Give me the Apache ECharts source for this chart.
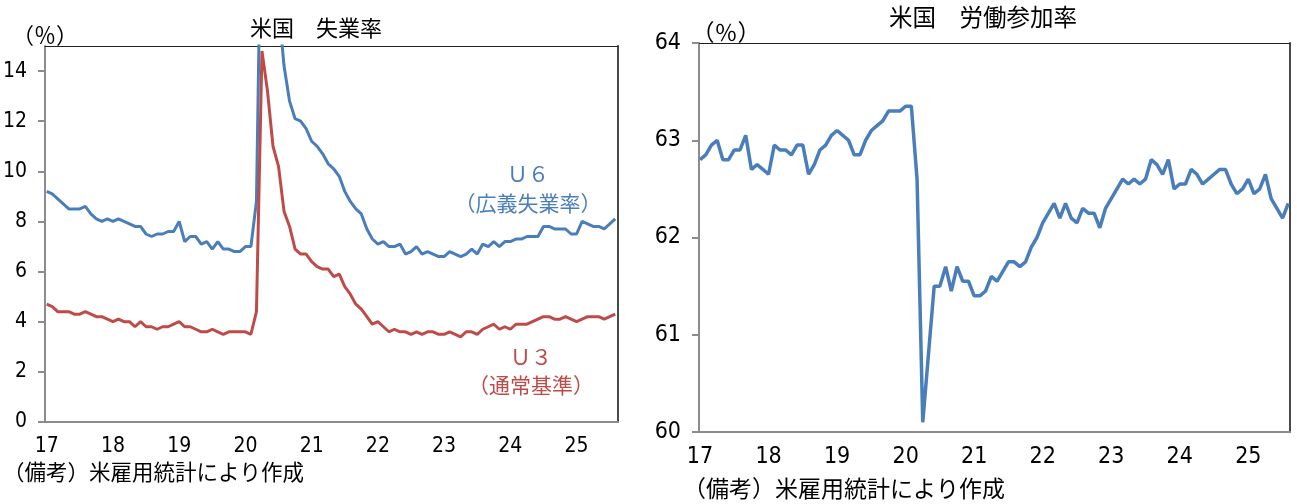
<!DOCTYPE html>
<html>
<head>
<meta charset="UTF-8">
<title>米国 失業率・労働参加率</title>
<script src="https://cdn.jsdelivr.net/npm/echarts@6/dist/echarts.min.js"></script>
<style>
    html, body { margin: 0; padding: 0; background: #fff; }
    #main { width: 1297px; height: 504px; }
</style>
</head>
<body>
<div id="main"></div>
<script type="text/javascript">
    // 月次データ 2017年1月～2025年8月
    var yearLabels = ['17', '18', '19', '20', '21', '22', '23', '24', '25'];

    // U3（通常基準）
    var u3 = [
        4.7, 4.6, 4.4, 4.4, 4.4, 4.3, 4.3, 4.4, 4.3, 4.2, 4.2, 4.1,
        4.0, 4.1, 4.0, 4.0, 3.8, 4.0, 3.8, 3.8, 3.7, 3.8, 3.8, 3.9,
        4.0, 3.8, 3.8, 3.7, 3.6, 3.6, 3.7, 3.6, 3.5, 3.6, 3.6, 3.6,
        3.6, 3.5, 4.4, 14.8, 13.2, 11.0, 10.2, 8.4, 7.8, 6.9, 6.7, 6.7,
        6.4, 6.2, 6.1, 6.1, 5.8, 5.9, 5.4, 5.1, 4.7, 4.5, 4.2, 3.9,
        4.0, 3.8, 3.6, 3.7, 3.6, 3.6, 3.5, 3.6, 3.5, 3.6, 3.6, 3.5,
        3.5, 3.6, 3.5, 3.4, 3.6, 3.6, 3.5, 3.7, 3.8, 3.9, 3.7, 3.8,
        3.7, 3.9, 3.9, 3.9, 4.0, 4.1, 4.2, 4.2, 4.1, 4.1, 4.2, 4.1,
        4.0, 4.1, 4.2, 4.2, 4.2, 4.1, 4.2, 4.3
    ];

    // U6（広義失業率）
    var u6 = [
        9.2, 9.1, 8.9, 8.7, 8.5, 8.5, 8.5, 8.6, 8.3, 8.1, 8.0, 8.1,
        8.0, 8.1, 8.0, 7.9, 7.8, 7.8, 7.5, 7.4, 7.5, 7.5, 7.6, 7.6,
        8.0, 7.2, 7.4, 7.4, 7.1, 7.2, 6.9, 7.2, 6.9, 6.9, 6.8, 6.8,
        7.0, 7.0, 8.8, 22.9, 21.1, 18.1, 16.6, 14.2, 12.8, 12.1, 12.0, 11.7,
        11.2, 11.0, 10.7, 10.3, 10.1, 9.8, 9.2, 8.8, 8.5, 8.3, 7.7, 7.3,
        7.1, 7.2, 7.0, 7.0, 7.1, 6.7, 6.8, 7.0, 6.7, 6.8, 6.7, 6.6,
        6.6, 6.8, 6.7, 6.6, 6.7, 6.9, 6.7, 7.1, 7.0, 7.2, 7.0, 7.2,
        7.2, 7.3, 7.3, 7.4, 7.4, 7.4, 7.8, 7.8, 7.7, 7.7, 7.7, 7.5,
        7.5, 8.0, 7.9, 7.8, 7.8, 7.7, 7.9, 8.1
    ];

    // 労働参加率
    var lfpr = [
        62.8, 62.85, 62.95, 63.0, 62.8, 62.8, 62.9, 62.9, 63.05, 62.7, 62.75, 62.7,
        62.65, 62.95, 62.9, 62.9, 62.85, 62.95, 62.95, 62.65, 62.75, 62.9, 62.95, 63.05,
        63.1, 63.05, 63.0, 62.85, 62.85, 63.0, 63.1, 63.15, 63.2, 63.3, 63.3, 63.3,
        63.35, 63.35, 62.6, 60.1, 60.8, 61.5, 61.5, 61.7, 61.45, 61.7, 61.55, 61.55,
        61.4, 61.4, 61.45, 61.6, 61.55, 61.65, 61.75, 61.75, 61.7, 61.75, 61.9, 62.0,
        62.15, 62.25, 62.35, 62.2, 62.35, 62.2, 62.15, 62.3, 62.25, 62.25, 62.1, 62.3,
        62.4, 62.5, 62.6, 62.55, 62.6, 62.55, 62.6, 62.8, 62.75, 62.65, 62.8, 62.5,
        62.55, 62.55, 62.7, 62.65, 62.55, 62.6, 62.65, 62.7, 62.7, 62.55, 62.45, 62.5,
        62.6, 62.45, 62.5, 62.65, 62.4, 62.3, 62.2, 62.35
    ];

    var yTicksL = [0, 2, 4, 6, 8, 10, 12, 14];
    var yTicksR = [60, 61, 62, 63, 64];

    var blue = '#4a7ebb';
    var red = '#be4b48';
    var jp = "'Noto Sans CJK JP', sans-serif";
    var num = "'Liberation Sans Narrow', 'DejaVu Sans Condensed', sans-serif";

    // 1月の位置（月インデックス）
    var janIdx = yearLabels.map(function (y, i) { return i * 12; });

    function pairs(arr) {
        return arr.map(function (v, i) { return [i, v]; });
    }

    function xAxisOpt(gridIndex, min, max, fs) {
        return {
            type: 'value', gridIndex: gridIndex, min: min, max: max,
            axisLine: {show: true, onZero: false, lineStyle: {color: '#8c8c8c', width: 2}},
            axisTick: {show: false},
            splitLine: {show: false},
            axisLabel: {
                customValues: janIdx, margin: 14,
                color: '#000', fontSize: fs, fontFamily: num,
                formatter: function (v) { return yearLabels[Math.round(v / 12)]; }
            }
        };
    }

    function yAxisOpt(gridIndex, min, max, ticks, fs) {
        return {
            type: 'value', gridIndex: gridIndex, min: min, max: max,
            axisLine: {show: true, onZero: false, lineStyle: {color: '#8c8c8c', width: 2}},
            axisTick: {show: true, inside: false, length: 7, customValues: ticks,
                lineStyle: {color: '#8c8c8c', width: 2}},
            splitLine: {show: false},
            axisLabel: {customValues: ticks, margin: 18, color: '#000', fontSize: fs, fontFamily: num}
        };
    }

    // 上辺・右辺の枠線
    function frameX(gridIndex, min, max) {
        return {
            type: 'value', gridIndex: gridIndex, position: 'top', min: min, max: max,
            axisLine: {show: true, onZero: false, lineStyle: {color: '#222', width: 1.2}},
            axisTick: {show: false}, axisLabel: {show: false}, splitLine: {show: false}
        };
    }

    function frameY(gridIndex, min, max) {
        return {
            type: 'value', gridIndex: gridIndex, position: 'right', min: min, max: max,
            axisLine: {show: true, onZero: false, lineStyle: {color: '#4a4a4a', width: 2}},
            axisTick: {show: false}, axisLabel: {show: false}, splitLine: {show: false}
        };
    }

    function txt(x, y, text, size, color, align) {
        return {
            type: 'text', x: x, y: y, silent: true,
            style: {
                text: text, fill: color || '#000', fontSize: size, fontFamily: jp,
                align: align || 'center', verticalAlign: 'middle'
            }
        };
    }

    var myChart = echarts.init(document.getElementById('main'));
    myChart.setOption({
        animation: false,
        backgroundColor: '#fff',
        grid: [
            {left: 44, top: 46, width: 574, height: 376},
            {left: 699, top: 43, width: 591, height: 389}
        ],
        xAxis: [
            xAxisOpt(0, -0.3, 103.5, 21),
            xAxisOpt(1, -0.18, 103.3, 23),
            frameX(0, -0.3, 103.5),
            frameX(1, -0.18, 103.3)
        ],
        yAxis: [
            yAxisOpt(0, 0, 15, yTicksL, 21),
            yAxisOpt(1, 60, 64, yTicksR, 23),
            frameY(0, 0, 15),
            frameY(1, 60, 64)
        ],
        series: [
            {name: 'U6', type: 'line', xAxisIndex: 0, yAxisIndex: 0, data: pairs(u6),
                showSymbol: false, clip: true, lineStyle: {color: blue, width: 3}},
            {name: 'U3', type: 'line', xAxisIndex: 0, yAxisIndex: 0, data: pairs(u3),
                showSymbol: false, clip: true, lineStyle: {color: red, width: 3}},
            {name: '労働参加率', type: 'line', xAxisIndex: 1, yAxisIndex: 1, data: pairs(lfpr),
                showSymbol: false, clip: true, lineStyle: {color: blue, width: 3.5}}
        ],
        graphic: [
            txt(316, 28, '米国　失業率', 22),
            txt(983, 17, '米国　労働参加率', 23.5),
            txt(45, 35, '（％）', 22),
            txt(726, 32, '（％）', 23),
            txt(528, 174, 'Ｕ６', 21, blue),
            txt(528, 203, '（広義失業率）', 21, blue),
            txt(531, 357, 'Ｕ３', 21, red),
            txt(531, 385, '（通常基準）', 21, red),
            txt(3, 472, '（備考）米雇用統計により作成', 21.5, '#000', 'left'),
            txt(683, 488, '（備考）米雇用統計により作成', 23, '#000', 'left')
        ]
    });
</script>
</body>
</html>
